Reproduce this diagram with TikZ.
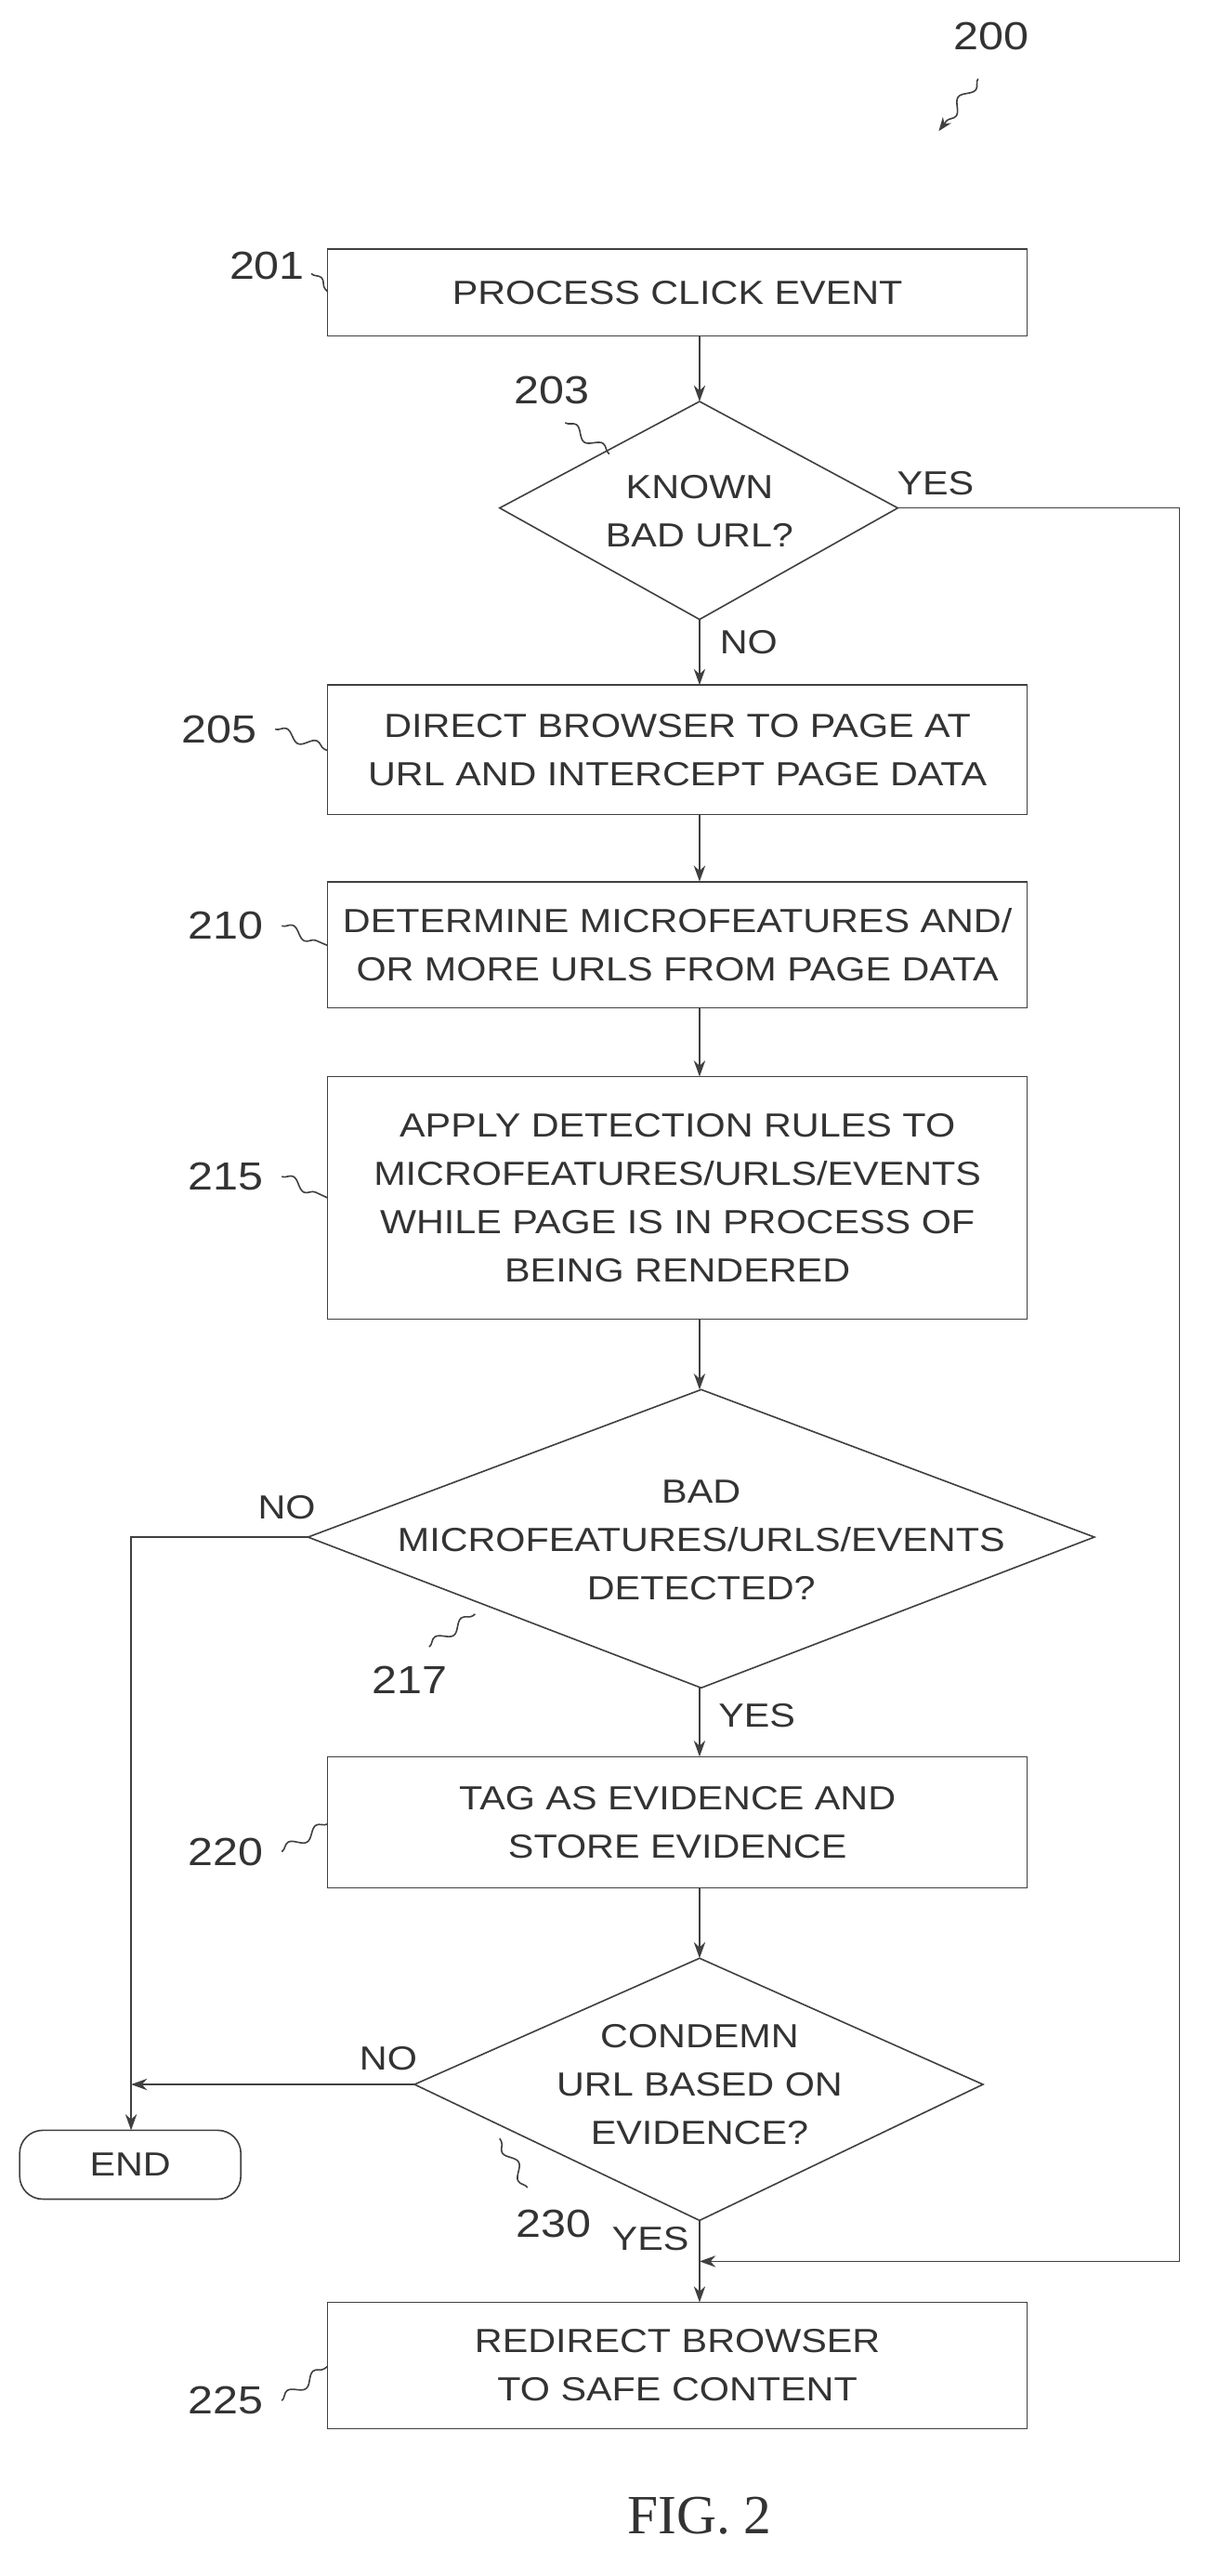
\documentclass[tikz,border=0pt]{standalone}
\usepackage{fontspec}
\setmainfont{Liberation Sans}[FakeStretch=1.15]
\newfontfamily\figfont{Liberation Serif}
\usetikzlibrary{shapes.geometric,arrows.meta,decorations.pathmorphing}
\begin{document}
\begin{tikzpicture}[x=0.05cm,y=-0.05cm,
  every node/.style={font=\fontsize{29}{42}\selectfont, text=black!80},
  line/.style={draw=black!75, line width=1.3pt},
  arr/.style={line, -{Stealth[length=14pt,width=10pt]}},
  box/.style={line},
  sq/.style={line, decorate, decoration={snake,amplitude=1.5mm,segment length=10mm}},
  lbl/.style={font=\fontsize{34}{38}\selectfont}]
\useasboundingbox (0,0) rectangle (735,1572);
% boxes
\draw[box] (200,152) rectangle (627,205);
\node (b201) at (413.5,178.5) {PROCESS CLICK EVENT};
\draw[box] (305,310) -- (427,245) -- (548,310) -- (427,378) -- cycle;
\node (d203) at (427,312) [align=center] {KNOWN\\BAD URL?};
\draw[box] (200,418) rectangle (627,497);
\node (b205) at (413.5,457.5) [align=center] {DIRECT BROWSER TO PAGE AT\\URL AND INTERCEPT PAGE DATA};
\draw[box] (200,538) rectangle (627,615);
\node (b210) at (413.5,576.5) [align=center] {DETERMINE MICROFEATURES AND/\\OR MORE URLS FROM PAGE DATA};
\draw[box] (200,657) rectangle (627,805);
\node (b215) at (413.5,731) [align=center] {APPLY DETECTION RULES TO\\MICROFEATURES/URLS/EVENTS\\WHILE PAGE IS IN PROCESS OF\\BEING RENDERED};
\draw[box] (188,938) -- (428,848) -- (668,938) -- (428,1030) -- cycle;
\node (d217) at (428,940) [align=center] {BAD\\MICROFEATURES/URLS/EVENTS\\DETECTED?};
\draw[box] (200,1072) rectangle (627,1152);
\node (b220) at (413.5,1112) [align=center] {TAG AS EVIDENCE AND\\STORE EVIDENCE};
\draw[box] (253,1272) -- (427,1195) -- (600,1272) -- (427,1355) -- cycle;
\node (d230) at (427,1272) [align=center] {CONDEMN\\URL BASED ON\\EVIDENCE?};
\draw[box] (200,1405) rectangle (627,1482);
\node (b225) at (413.5,1443.5) [align=center] {REDIRECT BROWSER\\TO SAFE CONTENT};
\draw[box, rounded corners=20] (12,1300) rectangle (147,1342);
\node (end) at (79.5,1321) {END};
% connectors
\coordinate (c1) at (427,205); \coordinate (c2) at (427,245);
\draw[arr] (c1) -- (c2);
\coordinate (c3) at (427,378); \coordinate (c4) at (427,418);
\draw[arr] (c3) -- (c4);
\coordinate (c5) at (427,497); \coordinate (c6) at (427,538);
\draw[arr] (c5) -- (c6);
\coordinate (c7) at (427,615); \coordinate (c8) at (427,657);
\draw[arr] (c7) -- (c8);
\coordinate (c9) at (427,805); \coordinate (c10) at (427,848);
\draw[arr] (c9) -- (c10);
\coordinate (c11) at (427,1030); \coordinate (c12) at (427,1072);
\draw[arr] (c11) -- (c12);
\coordinate (c13) at (427,1152); \coordinate (c14) at (427,1195);
\draw[arr] (c13) -- (c14);
\coordinate (c15) at (427,1355); \coordinate (c16) at (427,1405);
\draw[arr] (c15) -- (c16);
\coordinate (y1) at (548,310); \coordinate (y2) at (427,1380);
\draw[arr] (y1) -- (720,310) -- (720,1380) -- (y2);
\coordinate (n1) at (188,938); \coordinate (n2) at (80,1300);
\draw[arr] (n1) -- (80,938) -- (n2);
\coordinate (n3) at (253,1272); \coordinate (n4) at (80,1272);
\draw[arr] (n3) -- (n4);
% branch labels
\node at (571,295) {YES};
\node at (457,392) {NO};
\node at (175,920) {NO};
\node at (462,1047) {YES};
\node at (237,1256) {NO};
\node at (397,1366) {YES};
% reference labels
\node[lbl] at (605,22) {200};
\draw[sq,-{Stealth[length=12pt,width=9pt]}] (597,48) -- (573,80);
\node[lbl] at (163,162) {201}; \draw[sq] (190,167) -- (200,178);
\node[lbl] at (337,238) {203}; \draw[sq] (345,258) -- (372,277);
\node[lbl] at (134,445) {205}; \draw[sq] (168,445) -- (200,458);
\node[lbl] at (138,565) {210}; \draw[sq] (172,565) -- (200,577);
\node[lbl] at (138,718) {215}; \draw[sq] (172,718) -- (200,731);
\node[lbl] at (250,1025) {217}; \draw[sq] (262,1005) -- (290,985);
\node[lbl] at (138,1130) {220}; \draw[sq] (172,1130) -- (200,1113);
\node[lbl] at (338,1357) {230}; \draw[sq] (322,1335) -- (305,1305);
\node[lbl] at (138,1465) {225}; \draw[sq] (172,1465) -- (200,1444);
\node[font=\figfont\fontsize{48}{52}\selectfont] at (427,1535) {FIG. 2};
\end{tikzpicture}
\end{document}
